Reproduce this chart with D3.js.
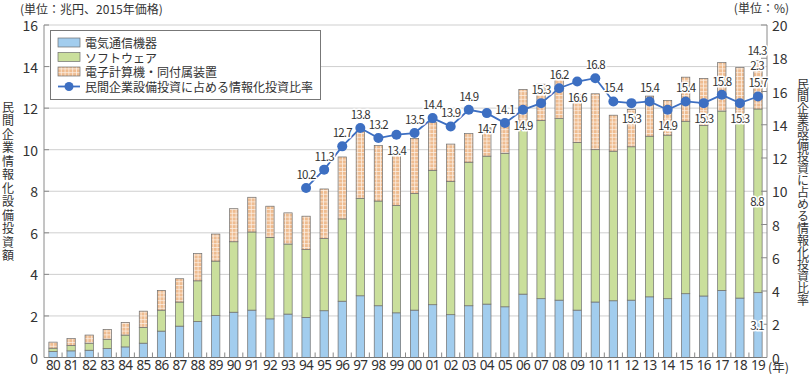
<!DOCTYPE html>
<html>
<head>
<meta charset="utf-8">
<script src="https://cdn.jsdelivr.net/npm/d3@7"></script>
<style>
  body { margin: 0; background: #fff; }
  svg { display: block; font-family: "Noto Sans CJK JP", "Noto Sans", sans-serif; }
</style>
</head>
<body>
<script>
// Data (兆円, 2015年価格) and ratio (%)
const years = ["80","81","82","83","84","85","86","87","88","89","90","91","92","93","94","95","96","97","98","99",
               "00","01","02","03","04","05","06","07","08","09","10","11","12","13","14","15","16","17","18","19"];
const telecom = [0.29,0.32,0.35,0.43,0.51,0.69,1.27,1.51,1.73,2.02,2.18,2.28,1.86,2.09,1.93,2.25,2.71,2.97,2.49,2.15,
                 2.28,2.54,2.06,2.49,2.57,2.44,3.05,2.83,2.76,2.28,2.67,2.73,2.76,2.92,2.83,3.07,2.96,3.23,2.86,3.12];
const software = [0.16,0.26,0.34,0.45,0.57,0.76,1.01,1.16,1.96,2.62,3.39,3.76,3.92,3.37,3.26,3.47,3.96,4.69,5.04,5.17,
                  5.61,6.47,6.42,6.91,7.12,7.39,7.89,8.57,8.74,8.07,7.33,7.20,7.38,7.73,7.87,8.30,8.21,8.63,8.51,8.84];
const computers = [0.29,0.34,0.39,0.47,0.61,0.78,0.95,1.12,1.31,1.30,1.59,1.67,1.50,1.50,1.61,2.39,2.98,3.23,2.67,2.56,
                   2.65,2.29,1.79,1.38,1.36,1.54,1.96,1.75,1.90,2.31,2.69,1.73,1.80,1.93,1.67,2.12,2.26,2.33,2.58,2.34];
const ratioYears = ["94","95","96","97","98","99","00","01","02","03","04","05","06","07","08","09","10","11","12","13","14","15","16","17","18","19"];
const ratio = [10.2,11.3,12.7,13.8,13.2,13.4,13.5,14.4,13.9,14.9,14.7,14.1,14.9,15.3,16.2,16.6,16.8,15.4,15.3,15.4,14.9,15.4,15.3,15.8,15.3,15.7];
const ratioLabelSide = ["up","up","up","up","up","down","up","up","up","up","down","up","down","up","up","down","up","up","down","up","down","up","down","up","down","up"];
const seriesNames = ["電気通信機器", "ソフトウェア", "電子計算機・同付属装置"];
const lineName = "民間企業設備投資に占める情報化投資比率";
const leftTicks = [0,2,4,6,8,10,12,14,16];
const rightTicks = [0,2,4,6,8,10,12,14,16,18,20];

const width = 810, height = 374;
const plotL = 44, plotR = 767, plotT = 25, plotB = 357.5;
const colors = { blue: "#a2cdee", green: "#cadf9c", orange: "#efbc90", line: "#3d6fc2" };

const svg = d3.select("body").append("svg")
    .attr("width", width)
    .attr("height", height)
    .attr("viewBox", `0 0 ${width} ${height}`);

// pattern for 電子計算機
const defs = svg.append("defs");
const pat = defs.append("pattern")
    .attr("id", "grid")
    .attr("patternUnits", "userSpaceOnUse")
    .attr("width", 3.8).attr("height", 3.8);
pat.append("rect").attr("width", 3.8).attr("height", 3.8).attr("fill", colors.orange);
pat.append("path").attr("d", "M0,0.4H3.8M0.4,0V3.8")
    .attr("stroke", "#fff").attr("stroke-width", 0.8).attr("opacity", 0.8);

const fills = [colors.blue, colors.green, "url(#grid)"];

// scales
const x = d3.scaleBand().domain(years).range([plotL, plotR]).paddingInner(0.54).paddingOuter(0.27);
const yL = d3.scaleLinear().domain([0, 16]).range([plotB, plotT]);
const yR = d3.scaleLinear().domain([0, 20]).range([plotB, plotT]);

// gridlines
svg.append("g").selectAll("line")
    .data(leftTicks.filter(d => d > 0))
    .join("line")
    .attr("x1", plotL).attr("x2", plotR)
    .attr("y1", d => yL(d)).attr("y2", d => yL(d))
    .attr("stroke", "#cfcfcf").attr("stroke-width", 1);

// stacked bars
const table = years.map((yr, i) => ({ year: yr, s0: telecom[i], s1: software[i], s2: computers[i] }));
const stacked = d3.stack().keys(["s0", "s1", "s2"])(table);

svg.append("g").selectAll("g")
    .data(stacked)
    .join("g")
    .attr("fill", (d, i) => fills[i])
    .selectAll("rect")
    .data(d => d)
    .join("rect")
    .attr("x", d => x(d.data.year))
    .attr("width", x.bandwidth())
    .attr("y", d => yL(d[1]))
    .attr("height", d => yL(d[0]) - yL(d[1]))
    .attr("stroke", "#6e6e6e")
    .attr("stroke-width", 0.7);

// axes
const axisColor = "#8a8a8a";
svg.append("line").attr("x1", plotL).attr("x2", plotL).attr("y1", plotT).attr("y2", plotB)
    .attr("stroke", axisColor);
svg.append("line").attr("x1", plotR).attr("x2", plotR).attr("y1", plotT).attr("y2", plotB)
    .attr("stroke", axisColor);
svg.append("line").attr("x1", plotL).attr("x2", plotR).attr("y1", plotB).attr("y2", plotB)
    .attr("stroke", "#777");

// x ticks between bars
svg.append("g").selectAll("line")
    .data(years.slice(1))
    .join("line")
    .attr("x1", d => x(d) - x.step() * x.paddingInner() / 2)
    .attr("x2", d => x(d) - x.step() * x.paddingInner() / 2)
    .attr("y1", plotB - 5).attr("y2", plotB)
    .attr("stroke", axisColor);

// left ticks
svg.append("g").selectAll("line")
    .data(leftTicks)
    .join("line")
    .attr("x1", plotL).attr("x2", plotL + 5)
    .attr("y1", d => yL(d)).attr("y2", d => yL(d))
    .attr("stroke", axisColor);
svg.append("g").selectAll("text")
    .data(leftTicks)
    .join("text")
    .attr("x", 38).attr("y", d => yL(d))
    .attr("text-anchor", "end")
    .attr("dominant-baseline", "central")
    .attr("font-size", 14).attr("fill", "#333")
    .text(d => d);

// right ticks
svg.append("g").selectAll("line")
    .data(rightTicks)
    .join("line")
    .attr("x1", plotR - 6).attr("x2", plotR)
    .attr("y1", d => yR(d)).attr("y2", d => yR(d))
    .attr("stroke", axisColor);
svg.append("g").selectAll("text")
    .data(rightTicks)
    .join("text")
    .attr("x", 772).attr("y", d => yR(d))
    .attr("dominant-baseline", "central")
    .attr("font-size", 14).attr("fill", "#333")
    .text(d => d);

// x labels
svg.append("g").selectAll("text")
    .data(years)
    .join("text")
    .attr("x", d => x(d) + x.bandwidth() / 2)
    .attr("y", 365)
    .attr("text-anchor", "middle")
    .attr("dominant-baseline", "central")
    .attr("font-family", "'Noto Sans', sans-serif")
    .attr("font-size", 13.5).attr("letter-spacing", -0.7).attr("fill", "#333")
    .text(d => d);
svg.append("text").attr("x", 768).attr("y", 366)
    .attr("dominant-baseline", "central")
    .attr("font-family", "'Noto Sans CJK JP', sans-serif")
    .attr("font-size", 12.5).attr("fill", "#333")
    .text("(年)");

// units and axis titles
svg.append("text").attr("x", 20).attr("y", 8)
    .attr("dominant-baseline", "central")
    .attr("font-size", 12).attr("fill", "#333")
    .text("(単位：兆円、2015年価格)");
svg.append("text").attr("x", 789).attr("y", 7)
    .attr("text-anchor", "end")
    .attr("dominant-baseline", "central")
    .attr("font-size", 12).attr("fill", "#333")
    .text("(単位：%)");
svg.append("text")
    .attr("x", 8).attr("y", 182)
    .attr("writing-mode", "vertical-rl")
    .attr("text-anchor", "middle")
    .attr("font-size", 12).attr("letter-spacing", 1.5).attr("fill", "#333")
    .text("民間企業情報化設備投資額");
svg.append("text")
    .attr("x", 803).attr("y", 192)
    .attr("writing-mode", "vertical-rl")
    .attr("text-anchor", "middle")
    .attr("font-size", 12).attr("letter-spacing", 0).attr("fill", "#333")
    .text(lineName);

// ratio line
const cx = d => x(d) + x.bandwidth() / 2;
const pts = ratioYears.map((yr, i) => ({ year: yr, v: ratio[i], side: ratioLabelSide[i] }));
svg.append("path")
    .datum(pts)
    .attr("fill", "none")
    .attr("stroke", colors.line)
    .attr("stroke-width", 1.8)
    .attr("d", d3.line().x(d => cx(d.year)).y(d => yR(d.v)));
svg.append("g").selectAll("circle")
    .data(pts)
    .join("circle")
    .attr("cx", d => cx(d.year)).attr("cy", d => yR(d.v))
    .attr("r", 5)
    .attr("fill", colors.line);

function halo(sel) {
    return sel.attr("stroke", "#fff").attr("stroke-width", 3).attr("paint-order", "stroke")
        .attr("stroke-linejoin", "round");
}

halo(svg.append("g").selectAll("text")
    .data(pts)
    .join("text")
    .attr("x", d => cx(d.year))
    .attr("y", d => yR(d.v) + (d.side === "up" ? -14 : 15))
    .attr("text-anchor", "middle")
    .attr("dominant-baseline", "central")
    .attr("font-size", 11.5).attr("letter-spacing", -0.8).attr("fill", "#333")
    .text(d => d.v.toFixed(1)));

// 2019 segment labels
const last = years.length - 1;
const lastX = cx(years[last]);
const segLabels = [
    { v: telecom[last], y: yL(telecom[last] / 2) },
    { v: software[last], y: yL(telecom[last] + software[last] / 2) },
    { v: computers[last], y: yR(ratio[ratio.length - 1]) - 31 },
    { v: telecom[last] + software[last] + computers[last], y: yR(ratio[ratio.length - 1]) - 46 }
];
halo(svg.append("g").selectAll("text")
    .data(segLabels)
    .join("text")
    .attr("x", lastX - 1)
    .attr("y", d => d.y)
    .attr("text-anchor", "middle")
    .attr("dominant-baseline", "central")
    .attr("font-size", 11.5).attr("letter-spacing", -0.8).attr("fill", "#333")
    .text(d => d.v.toFixed(1)));

// legend
const lg = svg.append("g");
lg.append("rect")
    .attr("x", 50.5).attr("y", 30.5).attr("width", 270).attr("height", 69)
    .attr("fill", "#fff").attr("stroke", "#777");
const rowY = [42.5, 57, 71.5, 86.5];
seriesNames.forEach((name, i) => {
    lg.append("rect")
        .attr("x", 58).attr("y", rowY[i] - 4.5).attr("width", 22).attr("height", 9)
        .attr("fill", fills[i]).attr("stroke", "#6e6e6e").attr("stroke-width", 0.7);
    lg.append("text")
        .attr("x", 85).attr("y", rowY[i])
        .attr("dominant-baseline", "central")
        .attr("font-size", 12).attr("fill", "#333")
        .text(name);
});
lg.append("line").attr("x1", 58).attr("x2", 80).attr("y1", rowY[3]).attr("y2", rowY[3])
    .attr("stroke", colors.line).attr("stroke-width", 1.8);
lg.append("circle").attr("cx", 69).attr("cy", rowY[3]).attr("r", 4.5).attr("fill", colors.line);
lg.append("text")
    .attr("x", 85).attr("y", rowY[3])
    .attr("dominant-baseline", "central")
    .attr("font-size", 12).attr("fill", "#333")
    .text(lineName);
</script>
</body>
</html>
